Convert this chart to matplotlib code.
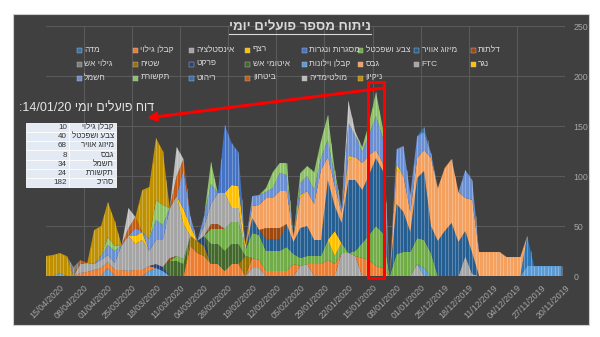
import matplotlib

matplotlib.use("Agg")
import matplotlib.pyplot as plt  # noqa: E402
import matplotlib.dates as mdates  # noqa: E402
import numpy as np  # noqa: E402
import pandas as pd  # noqa: E402
from matplotlib.lines import Line2D  # noqa: E402
from matplotlib.patches import ConnectionPatch, Rectangle  # noqa: E402

W, H = 600, 337
plt.rcParams["font.family"] = ["Liberation Sans", "DejaVu Sans"]

# one reading every second day, 21/11/2019 .. 19/04/2020
dates = pd.date_range("2019-11-21", "2020-04-19", freq="2D")

ftc = [0, 0, 0, 0, 0, 0, 0, 0, 0, 0, 0, 0, 0, 2, 20, 0, 0, 0, 0, 0,
       0, 12, 0, 0, 0, 0, 0, 0, 0, 0, 20, 23, 23, 0, 0, 0, 0, 12, 10, 0,
       0, 0, 0, 0, 8, 8, 0, 0, 0, 0, 0, 0, 0, 0, 0, 0, 0, 0, 0, 0,
       0, 0, 0, 0, 0, 0, 0, 0, 0, 0, 0, 0, 0, 0, 0, 0]
curtains = [10, 10, 10, 10, 10, 10, 0, 0, 0, 0, 0, 0, 0, 0, 0, 0, 0, 0, 0, 0,
            8, 0, 0, 0, 0, 0, 0, 0, 0, 0, 0, 0, 0, 0, 0, 0, 0, 0, 0, 0,
            0, 0, 0, 0, 0, 0, 0, 0, 0, 0, 0, 0, 0, 0, 0, 0, 0, 0, 5, 8,
            5, 0, 0, 0, 0, 0, 8, 0, 0, 0, 0, 0, 0, 3, 0, 0]
screed = [0, 0, 0, 0, 0, 30, 0, 0, 0, 0, 0, 0, 0, 0, 0, 0, 0, 0, 0, 0,
          0, 0, 0, 0, 0, 0, 0, 0, 0, 0, 0, 0, 0, 0, 0, 0, 0, 0, 0, 0,
          0, 0, 0, 0, 0, 0, 0, 0, 0, 0, 0, 0, 0, 0, 0, 0, 0, 0, 0, 0,
          0, 0, 0, 0, 0, 0, 0, 0, 0, 0, 0, 0, 0, 0, 0, 0]
detection_contractor = [0, 0, 0, 0, 0, 0, 0, 0, 0, 0, 0, 0, 0, 0, 0, 0, 0, 0, 0, 0,
                        0, 0, 0, 0, 0, 0, 8, 10, 16, 18, 0, 0, 0, 12, 16, 12, 12, 0, 0, 12,
                        5, 5, 5, 5, 8, 10, 0, 12, 12, 5, 12, 12, 20, 23, 30, 0, 0, 0, 0, 0,
                        5, 6, 6, 5, 6, 6, 6, 8, 6, 4, 3, 0, 0, 0, 0, 0]
carpet = [0, 0, 0, 0, 0, 0, 0, 0, 0, 0, 0, 0, 0, 0, 0, 0, 0, 0, 0, 0,
          0, 0, 0, 0, 0, 0, 0, 0, 0, 0, 0, 0, 0, 0, 0, 0, 0, 0, 0, 0,
          0, 0, 0, 0, 0, 0, 20, 0, 0, 0, 0, 0, 10, 12, 10, 0, 0, 0, 0, 0,
          0, 0, 0, 0, 0, 0, 0, 0, 0, 0, 0, 0, 0, 0, 0, 0]
parquet = [0, 0, 0, 0, 0, 0, 0, 0, 0, 0, 0, 0, 0, 0, 0, 0, 0, 0, 0, 0,
           0, 0, 0, 0, 0, 0, 0, 0, 0, 0, 0, 0, 0, 0, 0, 0, 0, 0, 0, 0,
           0, 0, 0, 0, 0, 0, 0, 0, 0, 0, 0, 0, 10, 0, 0, 0, 0, 0, 4, 4,
           0, 0, 0, 0, 0, 0, 0, 0, 0, 0, 0, 0, 0, 0, 0, 0]
firestop = [0, 0, 0, 0, 0, 0, 0, 0, 0, 0, 0, 0, 0, 0, 0, 0, 0, 0, 0, 0,
            0, 0, 0, 0, 0, 0, 0, 0, 0, 0, 0, 0, 0, 0, 0, 0, 0, 0, 0, 0,
            0, 0, 0, 0, 0, 0, 0, 20, 20, 20, 20, 20, 0, 0, 0, 12, 15, 15, 0, 0,
            0, 0, 0, 0, 0, 0, 0, 0, 0, 0, 0, 0, 0, 0, 0, 0]
paint = [0, 0, 0, 0, 0, 0, 0, 0, 0, 0, 0, 0, 0, 0, 0, 0, 0, 0, 0, 23,
         28, 26, 24, 24, 22, 0, 35, 40, 25, 15, 5, 0, 10, 8, 20, 8, 8, 8, 8, 10,
         24, 20, 20, 20, 25, 25, 6, 22, 22, 22, 15, 15, 0, 0, 0, 5, 5, 0, 0, 0,
         0, 0, 0, 0, 0, 0, 0, 0, 0, 0, 0, 0, 0, 0, 0, 0]
carpenter = [0, 0, 0, 0, 0, 0, 0, 0, 0, 0, 0, 0, 0, 0, 0, 0, 0, 0, 0, 0,
             0, 0, 0, 0, 0, 0, 0, 0, 0, 0, 0, 0, 0, 25, 0, 0, 0, 0, 0, 0,
             0, 0, 0, 0, 0, 0, 0, 0, 0, 0, 0, 0, 0, 0, 0, 0, 0, 0, 0, 0,
             0, 0, 0, 0, 0, 0, 0, 0, 0, 0, 0, 0, 0, 0, 0, 0]
hvac = [0, 0, 0, 0, 0, 0, 0, 0, 0, 0, 0, 0, 0, 21, 25, 34, 53, 45, 35, 27,
        69, 60, 20, 40, 50, 0, 62, 68, 60, 53, 71, 73, 20, 25, 60, 16, 16, 30, 30, 12,
        23, 12, 12, 12, 5, 15, 0, 0, 0, 0, 0, 0, 0, 0, 0, 0, 0, 0, 0, 0,
        0, 0, 0, 0, 0, 0, 0, 0, 0, 0, 0, 0, 0, 0, 0, 0]
doors = [0, 0, 0, 0, 0, 0, 0, 0, 0, 0, 0, 0, 0, 0, 0, 0, 0, 0, 0, 0,
         0, 0, 0, 0, 0, 0, 0, 0, 0, 0, 0, 0, 0, 0, 0, 0, 0, 0, 0, 0,
         0, 11, 11, 11, 0, 0, 0, 0, 0, 0, 5, 5, 0, 0, 0, 0, 0, 3, 0, 0,
         0, 0, 0, 0, 0, 0, 0, 0, 0, 0, 0, 0, 0, 0, 0, 0]
drywall = [0, 0, 0, 0, 0, 0, 19, 19, 19, 24, 24, 24, 24, 53, 33, 50, 64, 63, 53, 68,
           21, 20, 20, 36, 35, 0, 8, 8, 20, 27, 23, 20, 10, 20, 23, 70, 36, 35, 30, 6,
           33, 37, 30, 30, 25, 12, 0, 0, 0, 0, 0, 0, 0, 0, 0, 0, 0, 0, 0, 0,
           0, 0, 0, 0, 0, 0, 0, 0, 0, 0, 0, 0, 0, 0, 0, 0]
plumbing = [0, 0, 0, 0, 0, 0, 0, 0, 0, 0, 0, 0, 0, 0, 0, 0, 0, 0, 0, 0,
            0, 0, 0, 0, 0, 0, 0, 0, 0, 0, 0, 0, 0, 0, 0, 0, 0, 0, 0, 0,
            0, 0, 0, 0, 0, 0, 0, 14, 14, 36, 31, 20, 10, 0, 0, 35, 60, 50, 27, 24,
            15, 30, 26, 35, 25, 7, 7, 8, 6, 9, 9, 0, 0, 0, 0, 0]
flooring = [0, 0, 0, 0, 0, 0, 0, 0, 0, 0, 0, 0, 0, 0, 0, 0, 0, 0, 0, 0,
            0, 0, 0, 0, 5, 0, 0, 0, 0, 0, 0, 4, 0, 0, 0, 0, 0, 0, 3, 0,
            0, 0, 0, 0, 0, 0, 5, 22, 23, 0, 0, 0, 0, 0, 10, 15, 0, 0, 0, 0,
            0, 8, 8, 0, 0, 0, 0, 0, 0, 0, 0, 0, 0, 0, 0, 0]
frames = [0, 0, 0, 0, 0, 0, 0, 0, 0, 0, 0, 0, 0, 0, 0, 0, 0, 0, 0, 0,
          0, 0, 0, 0, 0, 0, 0, 0, 0, 0, 0, 0, 0, 0, 0, 0, 0, 0, 0, 0,
          0, 0, 0, 0, 0, 0, 0, 34, 42, 68, 0, 0, 0, 0, 0, 0, 0, 0, 0, 0,
          0, 0, 0, 0, 0, 0, 0, 0, 0, 0, 0, 0, 0, 0, 0, 0]
electric = [0, 0, 0, 0, 0, 0, 0, 0, 0, 0, 0, 0, 0, 20, 28, 0, 0, 0, 0, 5,
            18, 22, 18, 30, 15, 0, 25, 34, 20, 11, 21, 33, 5, 10, 17, 12, 14, 15, 12, 0,
            16, 18, 10, 6, 10, 10, 0, 0, 0, 0, 0, 20, 10, 0, 10, 40, 0, 0, 15, 20,
            12, 0, 8, 0, 0, 12, 10, 4, 0, 0, 0, 0, 0, 0, 0, 0]
furniture = [0, 0, 0, 0, 0, 0, 0, 0, 0, 0, 0, 0, 0, 0, 0, 0, 0, 0, 0, 0,
             5, 0, 0, 0, 0, 0, 0, 0, 0, 0, 0, 0, 0, 0, 0, 0, 0, 0, 0, 0,
             0, 0, 0, 0, 0, 0, 0, 0, 0, 0, 0, 0, 0, 0, 0, 0, 0, 0, 0, 0,
             0, 0, 0, 0, 0, 0, 0, 0, 0, 0, 0, 0, 0, 0, 0, 0]
comms = [0, 0, 0, 0, 0, 0, 0, 0, 0, 0, 0, 0, 0, 0, 0, 0, 0, 0, 0, 0,
         0, 0, 0, 0, 0, 0, 10, 24, 12, 5, 0, 0, 0, 6, 25, 17, 18, 10, 10, 0,
         12, 10, 16, 4, 0, 0, 0, 0, 0, 0, 0, 22, 0, 0, 0, 0, 0, 0, 20, 20,
         0, 0, 0, 0, 0, 5, 8, 0, 0, 0, 0, 0, 0, 0, 0, 0]
security = [0, 0, 0, 0, 0, 0, 0, 0, 0, 0, 0, 0, 0, 0, 0, 0, 0, 0, 0, 0,
            0, 0, 0, 0, 0, 0, 0, 0, 0, 0, 0, 0, 0, 0, 0, 0, 0, 0, 0, 0,
            0, 0, 0, 0, 0, 0, 0, 0, 0, 0, 0, 0, 0, 0, 0, 10, 20, 0, 0, 0,
            0, 0, 11, 8, 0, 0, 0, 0, 0, 0, 4, 0, 0, 0, 0, 0]
cleaning = [0, 0, 0, 0, 0, 0, 0, 0, 0, 0, 0, 0, 0, 0, 0, 0, 0, 0, 0, 0,
            0, 0, 0, 0, 0, 0, 0, 0, 0, 0, 0, 0, 0, 0, 0, 0, 0, 0, 0, 0,
            0, 0, 0, 0, 0, 0, 0, 0, 0, 0, 0, 0, 0, 0, 0, 0, 0, 0, 54, 62,
            52, 42, 0, 0, 0, 25, 35, 30, 34, 0, 0, 0, 20, 20, 21, 20]
fire_detection = [0, 0, 0, 0, 0, 0, 0, 0, 0, 0, 0, 0, 0, 0, 0, 0, 0, 0, 0, 0,
                  0, 0, 0, 0, 0, 0, 0, 0, 0, 0, 0, 0, 0, 0, 0, 0, 0, 0, 0, 0,
                  0, 0, 0, 0, 0, 0, 0, 0, 0, 0, 0, 0, 0, 0, 0, 0, 0, 0, 0, 0,
                  0, 0, 0, 0, 0, 0, 0, 0, 0, 0, 0, 9, 0, 0, 0, 0]
multimedia = [0, 0, 0, 0, 0, 0, 0, 0, 0, 0, 0, 0, 0, 0, 0, 0, 0, 0, 0, 0,
              0, 0, 0, 0, 0, 0, 0, 0, 0, 0, 4, 22, 0, 0, 0, 0, 0, 0, 0, 0,
              0, 0, 0, 0, 0, 0, 0, 0, 0, 0, 0, 0, 0, 0, 0, 0, 29, 0, 0, 0,
              0, 0, 0, 20, 0, 0, 0, 0, 0, 0, 0, 0, 0, 0, 0, 0]

# stacking order, bottom first
stack = [
    ("FTC", ftc, "#A5A5A5"),
    ("קבלן וילונות", curtains, "#5B9BD5"),
    ("מדה", screed, "#2E75B6"),
    ("קבלן גילוי", detection_contractor, "#ED7D31"),
    ("שטיח", carpet, "#997300"),
    ("פרקט", parquet, "#264478"),
    ("איטומי אש", firestop, "#43682B"),
    ("צבע ושפכטל", paint, "#70AD47"),
    ("נגר", carpenter, "#FFC000"),
    ("מיזוג אוויר", hvac, "#255E91"),
    ("דלתות", doors, "#9E480E"),
    ("גבס", drywall, "#F4A05E"),
    ("אינסטלציה", plumbing, "#A5A5A5"),
    ("רצף", flooring, "#FFC000"),
    ("מסגרות ונגרות", frames, "#4472C4"),
    ("חשמל", electric, "#6A8FD3"),
    ("ריהוט", furniture, "#2E75B6"),
    ("תקשורת", comms, "#8CC168"),
    ("ביטחון", security, "#C55A11"),
    ("ניקיון", cleaning, "#BF9000"),
    ("גילוי אש", fire_detection, "#7F7F7F"),
    ("מולטימדיה", multimedia, "#BDBDBD"),
]
colors = {name: c for name, _, c in stack}

legend_order = [
    "מדה", "קבלן גילוי", "אינסטלציה", "רצף", "מסגרות ונגרות", "צבע ושפכטל", "מיזוג אוויר", "דלתות",
    "גילוי אש", "שטיח", "פרקט", "איטומי אש", "קבלן וילונות", "גבס", "FTC", "נגר",
    "חשמל", "תקשורת", "ריהוט", "ביטחון", "מולטימדיה", "ניקיון",
]

report_date = "2020-01-14"
report_rows = ["קבלן גילוי", "צבע ושפכטל", "מיזוג אוויר", "גבס", "חשמל", "תקשורת"]
report_total = 182


def rtl(s):
    # matplotlib has no bidi support: flip Hebrew strings to visual order
    if any("\u0590" <= ch <= "\u05ff" for ch in s):
        return s[::-1]
    return s


def fx(x):
    return x / W


def fy(y):
    return 1 - y / H


fig = plt.figure(figsize=(W / 100, H / 100), dpi=100)
fig.patch.set_facecolor("white")
fig.patches.append(Rectangle((fx(13), fy(325)), fx(589) - fx(13), fy(14) - fy(325),
                             transform=fig.transFigure, facecolor="#404040",
                             edgecolor="#cfcfcf", lw=0.8, zorder=-1))

ax = fig.add_axes([fx(46), fy(276), fx(565) - fx(46), fy(26) - fy(276)])
ax.set_facecolor("none")

x = mdates.date2num(dates)
vals = np.array([s[1] for s in stack], dtype=float)
ax.stackplot(x, vals, colors=[s[2] for s in stack], lw=0, zorder=2)

# thin light stripes on every day, up to the stacked total
total = vals.sum(axis=0)
days = mdates.date2num(pd.date_range(dates[0], dates[-1], freq="D"))
ax.vlines(days, 0, np.interp(days, x, total), color="white", alpha=0.3, lw=0.6, zorder=3)

ticks = pd.date_range("2019-11-20", "2020-04-15", freq="7D")
for v in range(0, 251, 50):
    ax.axhline(v, color="#5a5a5a", lw=0.8, zorder=1)
for t in ticks[::2]:
    ax.axvline(mdates.date2num(t), color="#5a5a5a", lw=0.8, zorder=1)

ax.set_ylim(0, 250)
ax.set_xlim(mdates.date2num(pd.Timestamp("2020-04-19")), mdates.date2num(pd.Timestamp("2019-11-20")))
ax.yaxis.tick_right()
ax.set_yticks(range(0, 251, 50))
ax.set_xticks(mdates.date2num(ticks))
ax.set_xticklabels([t.strftime("%d/%m/%Y") for t in ticks], rotation=45, ha="right",
                   rotation_mode="anchor")
ax.tick_params(axis="both", length=0, colors="#a6a6a6", labelsize=6.3)
ax.tick_params(axis="y", pad=6)
ax.tick_params(axis="x", pad=5)
for sp in ax.spines.values():
    sp.set_visible(False)

# title with underline
title = fig.text(0.5, fy(27), rtl("ניתוח מספר פועלים יומי"), ha="center", va="center",
                 fontsize=9.5, fontweight="bold", color="#d9d9d9")

# legend, eight columns
for i, name in enumerate(legend_order):
    cx = 79 + 56.3 * (i % 8)
    cy = 50 + 14 * (i // 8)
    fig.patches.append(Rectangle((fx(cx - 2.5), fy(cy + 2.5)), 5 / W, 5 / H,
                                 transform=fig.transFigure, facecolor=colors[name],
                                 edgecolor="#bfbfbf", lw=0.3))
    fig.text(fx(cx + 5), fy(cy), rtl(name), ha="left", va="center", fontsize=6,
             color="#d9d9d9")

# daily report box and table
idx = list(dates).index(pd.Timestamp(report_date))
rx = mdates.date2num(pd.Timestamp(report_date))
ax.add_patch(Rectangle((rx - 2.2, -2), 4.4, 196, fill=False, edgecolor="#ff0000",
                       lw=2.2, clip_on=False, zorder=6))
arrow = ConnectionPatch(xyA=(rx - 2.2, 188), coordsA=ax.transData,
                        xyB=(fx(147), fy(118)), coordsB=fig.transFigure,
                        arrowstyle="-|>", mutation_scale=12, color="#ff0000", lw=2.2,
                        zorder=6)
fig.add_artist(arrow)

fig.text(fx(19), fy(108), ":14/01/20 " + rtl("דוח פועלים יומי"), ha="left", va="center",
         fontsize=9, color="#e6e6e6")

rows = [(name, int(dict((s[0], s[1]) for s in stack)[name][idx])) for name in report_rows]
rows.append(('סה"כ', report_total))
tx0, tsplit, tx1 = 26, 69, 116
ty0, rh = 123, 9.15
for i, (name, val) in enumerate(rows):
    y0 = ty0 + i * rh
    for a, b in ((tx0, tsplit), (tsplit, tx1)):
        fig.patches.append(Rectangle((fx(a), fy(y0 + rh)), fx(b) - fx(a), fy(y0) - fy(y0 + rh),
                                     transform=fig.transFigure, facecolor="#e3eaf4",
                                     edgecolor="white", lw=0.6, zorder=5))
    fig.text(fx(tsplit - 2), fy(y0 + rh / 2), str(val), ha="right", va="center",
             fontsize=5.8, color="#333333", zorder=6)
    fig.text(fx(tx1 - 2), fy(y0 + rh / 2), rtl(name), ha="right", va="center",
             fontsize=5.8, color="#333333", zorder=6)

fig.canvas.draw()
bb = title.get_window_extent()
fig.add_artist(Line2D([bb.x0 / W, bb.x1 / W], [(bb.y0 - 1) / H] * 2, color="#d9d9d9", lw=0.8))

fig.savefig("out.png", dpi=100)
